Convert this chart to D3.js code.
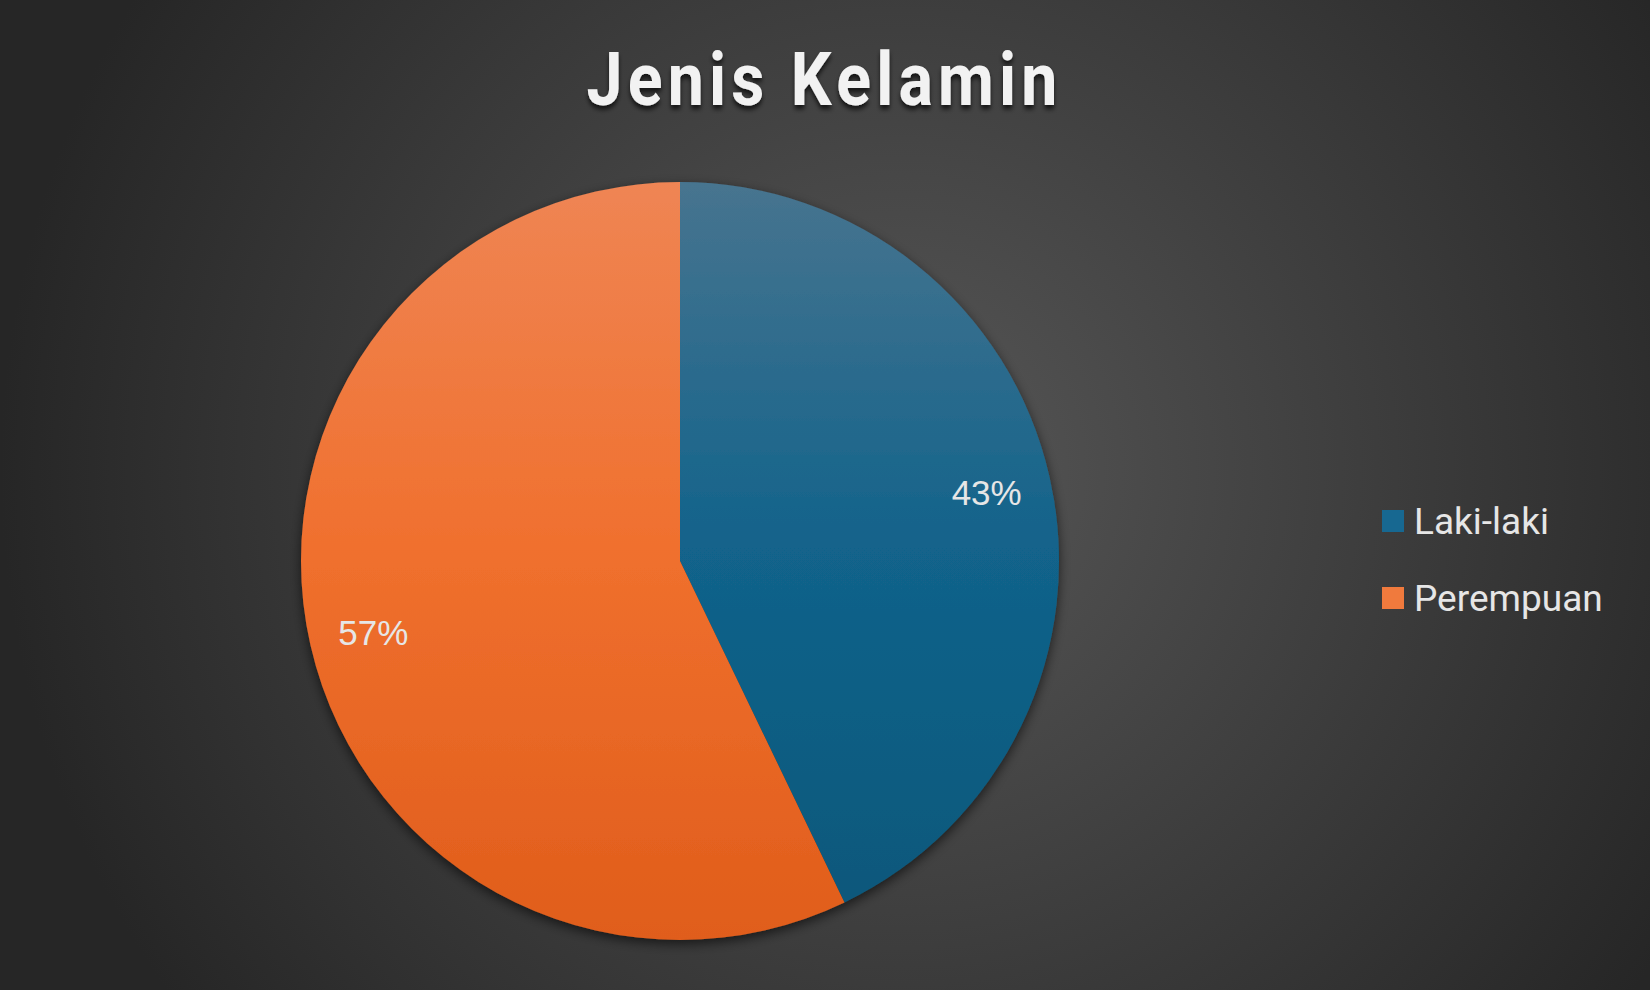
<!DOCTYPE html>
<html>
<head>
<meta charset="utf-8">
<script src="https://cdn.jsdelivr.net/npm/d3@7"></script>
<style>
  html, body { margin: 0; padding: 0; background: #2b2b2b; }
  svg { display: block; }
</style>
</head>
<body>
<div id="chart"></div>
<script>
// chart size
var svgWidth = 1650;
var svgHeight = 990;

// data (3 of 7 vs 4 of 7 -> 43% / 57%)
var categories = ["Laki-laki", "Perempuan"];
var counts = [3, 4];
var colorTop = ["#47748f", "#ef8554"];
var colorMid = ["#12638b", "#f0702e"];
var colorBottom = ["#09577a", "#e05d1b"];
var legendColors = ["#176891", "#f07a3d"];

var titleText = "Jenis Kelamin";

// pie geometry
var cx = 680, cy = 561, radius = 379;

var svg = d3.select("#chart")
    .append("svg")
    .attr("width", svgWidth)
    .attr("height", svgHeight);

var defs = svg.append("defs");

// background radial gradient
var bg = defs.append("radialGradient")
    .attr("id", "bg")
    .attr("gradientUnits", "userSpaceOnUse")
    .attr("cx", 900).attr("cy", 470).attr("r", 900);
bg.append("stop").attr("offset", "0%").attr("stop-color", "#575757");
bg.append("stop").attr("offset", "100%").attr("stop-color", "#262626");

// slice gradients (vertical, over the whole pie, in pie-group coords)
categories.forEach(function(c, i) {
    var g = defs.append("linearGradient")
        .attr("id", "slice" + i)
        .attr("gradientUnits", "userSpaceOnUse")
        .attr("x1", 0).attr("y1", -radius)
        .attr("x2", 0).attr("y2", radius);
    g.append("stop").attr("offset", "0%").attr("stop-color", colorTop[i]);
    g.append("stop").attr("offset", "48%").attr("stop-color", colorMid[i]);
    g.append("stop").attr("offset", "100%").attr("stop-color", colorBottom[i]);
});

// shadow for the pie
var sh = defs.append("filter").attr("id", "shadow")
    .attr("x", "-10%").attr("y", "-10%").attr("width", "120%").attr("height", "120%");
sh.append("feDropShadow")
    .attr("dx", 0).attr("dy", 4).attr("stdDeviation", 6)
    .attr("flood-color", "#000").attr("flood-opacity", 0.6);

// shadow for the title
var tsh = defs.append("filter").attr("id", "tshadow")
    .attr("x", "-10%").attr("y", "-20%").attr("width", "120%").attr("height", "150%");
tsh.append("feDropShadow")
    .attr("dx", 0).attr("dy", 4).attr("stdDeviation", 2.5)
    .attr("flood-color", "#000").attr("flood-opacity", 0.7);

svg.append("rect")
    .attr("width", svgWidth)
    .attr("height", svgHeight)
    .attr("fill", "url(#bg)");

// title: bold face with tracking, squeezed horizontally to fit
var spacing = 6;
var titleG = svg.append("g");
var title = titleG.append("text")
    .attr("x", 0)
    .attr("y", 0)
    .attr("text-anchor", "start")
    .attr("font-family", "Roboto, 'Open Sans', sans-serif")
    .attr("font-weight", "bold")
    .attr("font-size", 74)
    .attr("letter-spacing", spacing)
    .attr("fill", "#f2f2f2")
    .attr("filter", "url(#tshadow)")
    .text(titleText);

var titleLen = title.node().getComputedTextLength() - spacing; // drop trailing spacing
var titleWidth = 471;
var sx = titleWidth / titleLen;
titleG.attr("transform", `translate(${822 - titleWidth / 2}, 105) scale(${sx}, 1)`);

// pie
var total = d3.sum(counts);
var pie = d3.pie().sort(null)(counts);
var arc = d3.arc().innerRadius(0).outerRadius(radius);
var labelArc = d3.arc().innerRadius(radius * 0.83).outerRadius(radius * 0.83);

var pieGroup = svg.append("g")
    .attr("transform", `translate(${cx}, ${cy})`);

pieGroup.append("g")
    .attr("filter", "url(#shadow)")
    .selectAll("path")
    .data(pie)
    .enter()
    .append("path")
    .attr("d", arc)
    .attr("fill", (d, i) => "url(#slice" + i + ")");

// data labels
pieGroup.selectAll("text.pct")
    .data(pie)
    .enter()
    .append("text")
    .attr("class", "pct")
    .attr("x", d => labelArc.centroid(d)[0])
    .attr("y", d => labelArc.centroid(d)[1])
    .attr("text-anchor", "middle")
    .attr("dy", "0.4em")
    .attr("font-family", "'Liberation Sans', Arial, sans-serif")
    .attr("font-size", 35)
    .attr("fill", "#e6e6e6")
    .text(d => Math.round(d.data / total * 100) + "%");

// legend
var legend = svg.append("g")
    .attr("transform", "translate(1382, 510)");

var rows = legend.selectAll("g")
    .data(categories)
    .enter()
    .append("g")
    .attr("transform", (d, i) => `translate(0, ${i * 77})`);

rows.append("rect")
    .attr("width", 22)
    .attr("height", 22)
    .attr("fill", (d, i) => legendColors[i]);

rows.append("text")
    .attr("x", 32)
    .attr("y", 24)
    .attr("font-family", "Roboto, 'Open Sans', sans-serif")
    .attr("font-size", 37)
    .attr("fill", "#e6e6e6")
    .text(d => d);
</script>
</body>
</html>
